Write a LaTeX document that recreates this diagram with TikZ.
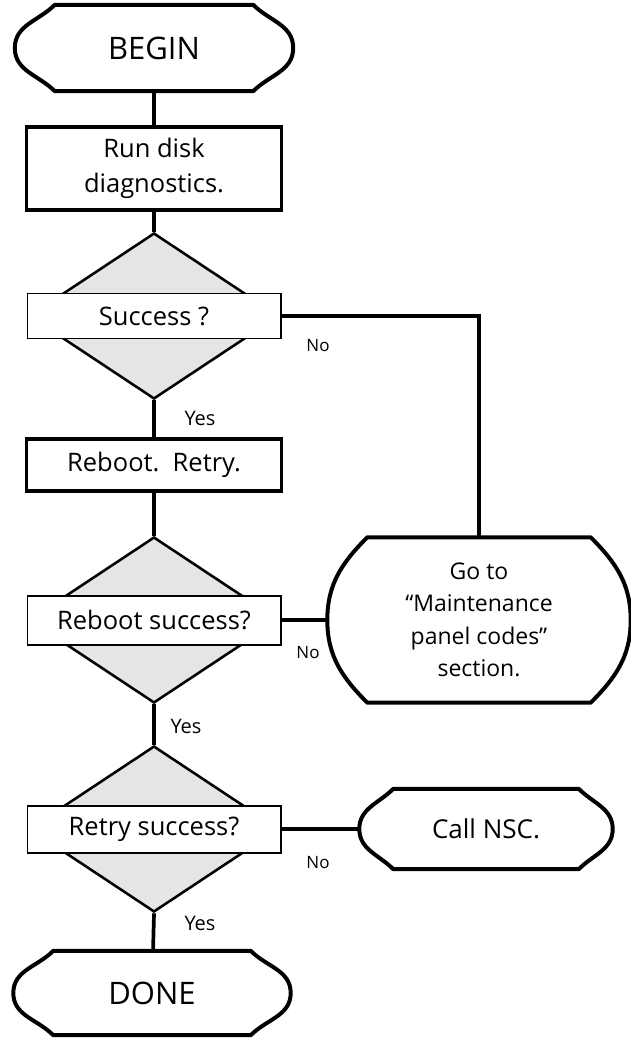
\documentclass[tikz,border=0pt]{standalone}
\usepackage{fontspec}
\setmainfont{Open Sans}
\usetikzlibrary{calc,shapes.geometric}
\tikzset{
	term/.style={minimum width=#1, inner sep=0pt, align=center, font=\fontsize{23}{32.5}\selectfont},
	proc/.style={draw, line width=1.4mm, minimum width=255pt, inner sep=0pt, align=center, font=\fontsize{25.5}{35}\selectfont},
	decision/.style={diamond, draw, line width=0.9mm, fill=black!10, minimum width=250pt, minimum height=166pt, inner sep=0pt},
	question/.style={draw, line width=0.7mm, fill=white, minimum width=253pt, inner sep=0pt, font=\fontsize{25.5}{30}\selectfont},
	flow/.style={line width=1.3mm},
	answer/.style={font=\fontsize{20}{24}\selectfont, inner sep=0pt}
}
\newcommand{\termline}[2]{\draw[line width=1.4mm, line join=round] ($(#1.north west)+(#2,0)$) -- ($(#1.north east)+(-#2,0)$) to[out=-45,in=90] (#1.east) to[out=-90,in=45] ($(#1.south east)+(-#2,0)$) -- ($(#1.south west)+(#2,0)$) to[out=135,in=-90] (#1.west) to[out=90,in=-135] cycle;}

\begin{document}
\begin{tikzpicture}[x=1pt, y=1pt]
			\useasboundingbox (0, 0) rectangle (630, -1038);
			%%%%% START %%%%%
			
			\node[term=278pt, minimum height=86pt, font=\fontsize{31}{36}\selectfont] (begin) at (154, -48) {BEGIN};
			\termline{begin}{40}
			
			\node[proc, minimum height=83pt] (rundiag) at (154, -168.5) {Run disk\\diagnostics.};
			
			\node[decision] (d1) at (154, -316) {};
			\node[question, minimum height=45pt] (q1) at (154, -316) {Success ?};
			
			\node[proc, minimum height=52pt] (reboot) at (154, -465) {Reboot.\ \ Retry.};
			
			\node[decision] (d2) at (154, -620) {};
			\node[question, minimum height=49pt] (q2) at (154, -620) {Reboot success?};
			
			\node[decision] (d3) at (154, -829) {};
			\node[question, minimum height=47pt] (q3) at (154, -829) {Retry success?};
			
			\node[term=277pt, minimum height=84pt, font=\fontsize{31}{36}\selectfont] (done) at (152, -993) {DONE};
			\termline{done}{40}
			
			\node[term=303pt, minimum height=165pt] (goto) at (479, -620) {Go to\\``Maintenance\\panel codes''\\section.};
			\termline{goto}{40}
			
			\node[term=253pt, minimum height=80pt, font=\fontsize{26}{30}\selectfont] (callnsc) at (486, -829) {Call NSC.};
			\termline{callnsc}{34}
			
			% connectors
			\draw[flow] (begin) -- (rundiag);
			\draw[flow] (rundiag) -- (d1.north);
			\draw[flow] (d1.south) -- (reboot);
			\draw[flow] (reboot) -- (d2.north);
			\draw[flow] (d2.south) -- (d3.north);
			\draw[flow] (d3.south) -- (done);
			\draw[flow] (q1.east) -| (goto.north);
			\draw[flow] (q2.east) -- (goto.west);
			\draw[flow] (q3.east) -- (callnsc.west);
			
			\node[answer] (yes1) at (200, -418) {Yes};
			\node[answer] (yes2) at (186, -726) {Yes};
			\node[answer] (yes3) at (200, -923) {Yes};
			\node[answer, font=\fontsize{17}{20}\selectfont] (no1) at (318, -346) {No};
			\node[answer, font=\fontsize{17}{20}\selectfont] (no2) at (308, -653) {No};
			\node[answer, font=\fontsize{17}{20}\selectfont] (no3) at (318, -863) {No};
			
			%%%%% END %%%%%
\end{tikzpicture}
\end{document}
